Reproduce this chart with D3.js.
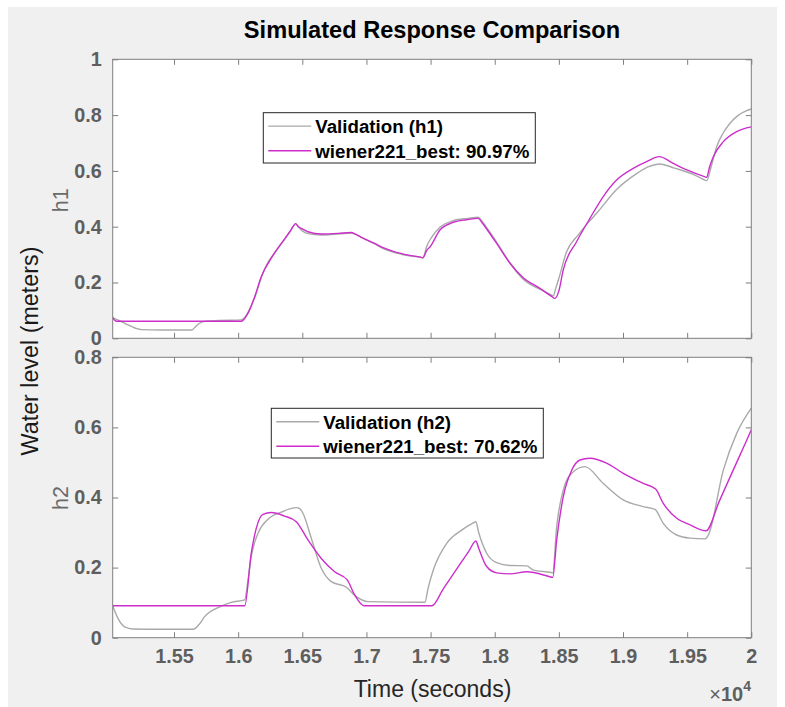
<!DOCTYPE html>
<html>
<head>
<meta charset="utf-8">
<script src="https://cdn.jsdelivr.net/npm/d3@7"></script>
<style>
  html, body { margin: 0; padding: 0; background: #ffffff; }
  svg { display: block; }
  text { font-family: "Liberation Sans", Arial, Helvetica, sans-serif; }
</style>
</head>
<body>
<svg id="chart" width="785" height="707"></svg>
<script>
// ---------------- DATA ----------------
const chartTitle = "Simulated Response Comparison";
const xTicks = [15500, 16000, 16500, 17000, 17500, 18000, 18500, 19000, 19500, 20000];
const xTickLabels = ["1.55", "1.6", "1.65", "1.7", "1.75", "1.8", "1.85", "1.9", "1.95", "2"];
const yTicksH1 = [0, 0.2, 0.4, 0.6, 0.8, 1];
const yTickLabelsH1 = ["0", "0.2", "0.4", "0.6", "0.8", "1"];
const yTicksH2 = [0, 0.2, 0.4, 0.6, 0.8];
const yTickLabelsH2 = ["0", "0.2", "0.4", "0.6", "0.8"];
const seriesNames = ["Validation", "wiener221_best"];
const fitH1 = "90.97%";
const fitH2 = "70.62%";

// h1 validation: [time (s), level (m)]
const h1Validation = [
  [15022,0.074],[15080,0.062],[15141,0.048],[15200,0.036],[15245,0.031],[15400,0.030],[15640,0.030],
  [15660,0.038],[15700,0.054],[15740,0.061],[15850,0.064],[16024,0.066],[16060,0.080],[16100,0.115],
  [16140,0.160],[16180,0.218],[16220,0.262],[16258,0.290],[16300,0.318],[16336,0.338],[16402,0.380],
  [16448,0.410],[16465,0.402],[16500,0.385],[16544,0.375],[16648,0.370],[16760,0.373],[16882,0.377],[16960,0.362],
  [17064,0.338],[17140,0.320],[17220,0.307],[17330,0.296],[17420,0.2905],[17440,0.288],[17470,0.330],[17505,0.360],
  [17573,0.398],[17677,0.422],[17790,0.430],[17872,0.434],[17900,0.421],[17940,0.395],[18015,0.345],[18119,0.270],
  [18222,0.212],[18352,0.176],[18420,0.161],[18456,0.152],[18475,0.178],[18500,0.215],[18560,0.310],[18650,0.370],[18720,0.410],
  [18794,0.448],[18950,0.533],[19106,0.590],[19200,0.615],[19288,0.625],[19400,0.610],[19560,0.585],
  [19620,0.571],[19652,0.565],[19690,0.620],[19730,0.687],[19780,0.735],[19834,0.771],[19900,0.800],[19960,0.815],
  [20000,0.822]
];
// h1 model
const h1Model = [
  [15022,0.074],[15050,0.061],[16024,0.061],[16077,0.090],[16129,0.149],[16180,0.221],[16258,0.287],
  [16336,0.340],[16402,0.382],[16430,0.402],[16448,0.411],[16470,0.400],[16500,0.392],[16544,0.382],[16648,0.374],[16780,0.376],
  [16882,0.379],[16910,0.374],[16960,0.362],[17064,0.340],[17140,0.323],[17220,0.310],[17330,0.298],[17420,0.291],[17440,0.289],
  [17470,0.315],[17496,0.328],[17573,0.388],[17677,0.416],[17780,0.425],[17872,0.430],[17900,0.415],[17940,0.390],
  [18015,0.340],[18119,0.269],[18222,0.217],[18352,0.179],[18440,0.151],[18469,0.143],[18500,0.170],[18534,0.245],
  [18638,0.346],[18742,0.430],[18846,0.508],[18950,0.567],[19080,0.609],[19184,0.633],[19283,0.651],
  [19380,0.630],[19470,0.609],[19560,0.592],[19625,0.581],[19652,0.577],[19675,0.615],[19704,0.651],[19782,0.705],[19886,0.741],
  [20000,0.758]
];
// h2 validation
const h2Validation = [
  [15022,0.091],[15063,0.055],[15115,0.031],[15180,0.025],[15400,0.024],[15648,0.024],[15700,0.040],
  [15739,0.060],[15843,0.086],[15946,0.101],[16051,0.108],[16075,0.160],[16102,0.231],[16155,0.298],
  [16233,0.338],[16336,0.358],[16453,0.371],[16480,0.368],[16505,0.355],[16570,0.284],[16648,0.198],
  [16726,0.160],[16843,0.144],[16921,0.117],[17012,0.103],[17456,0.101],[17480,0.140],[17521,0.193],
  [17625,0.269],[17742,0.307],[17830,0.327],[17853,0.331],[17875,0.300],[17937,0.241],[18015,0.214],[18119,0.206],[18249,0.205],
  [18301,0.193],[18440,0.186],[18452,0.185],[18483,0.317],[18534,0.421],[18600,0.469],[18703,0.488],[18846,0.440],
  [19002,0.393],[19158,0.374],[19249,0.366],[19314,0.326],[19418,0.293],[19522,0.284],[19639,0.282],
  [19665,0.293],[19782,0.478],[19886,0.583],[20000,0.655]
];
// h2 model
const h2Model = [
  [15022,0.091],[16051,0.091],[16102,0.241],[16141,0.312],[16193,0.352],[16258,0.357],[16362,0.347],
  [16453,0.331],[16544,0.279],[16648,0.226],[16752,0.188],[16850,0.165],[16908,0.122],[16981,0.091],
  [17509,0.091],[17600,0.140],[17700,0.194],[17800,0.248],[17853,0.276],[17875,0.255],[17937,0.203],[18015,0.185],
  [18119,0.182],[18249,0.188],[18430,0.174],[18452,0.172],
  [18483,0.279],[18534,0.402],[18600,0.478],[18665,0.507],[18742,0.512],[18872,0.498],[19002,0.469],
  [19158,0.440],[19254,0.424],[19314,0.383],[19418,0.341],[19522,0.322],[19647,0.305],
  [19750,0.389],[19850,0.471],[19950,0.552],[20000,0.593]
];

// ---------------- LAYOUT ----------------
const svg = d3.select("#chart");
const FONT = '"Liberation Sans", Arial, Helvetica, sans-serif';
const valColor = "#a9a9a9";
const modColor = "#cc2ecc";
const frameColor = "#7f7f7f";
const tickTextColor = "#5e5e5e";

svg.append("rect").attr("x", 8).attr("y", 7).attr("width", 769).attr("height", 700).attr("fill", "#f0f0f0");

const axL = 112.7, axR = 751.3;
const panels = [
  { top: 59.3, bottom: 338.3, yMax: 1, ticks: yTicksH1, labels: yTickLabelsH1, val: h1Validation, mod: h1Model,
    ylab: "h1", legend: { x: 263.3, y: 112.7, w: 272, h: 50.3, t1: "Validation (h1)", t2: seriesNames[1] + ": " + fitH1 }, showX: false },
  { top: 357.3, bottom: 637.7, yMax: 0.8, ticks: yTicksH2, labels: yTickLabelsH2, val: h2Validation, mod: h2Model,
    ylab: "h2", legend: { x: 271.3, y: 408.3, w: 272, h: 49.7, t1: "Validation (h2)", t2: seriesNames[1] + ": " + fitH2 }, showX: true }
];

const x = d3.scaleLinear().domain([15022, 20000]).range([axL, axR]);

panels.forEach((p, i) => {
  const y = d3.scaleLinear().domain([0, p.yMax]).range([p.bottom, p.top]);
  const g = svg.append("g");
  g.append("rect").attr("x", axL).attr("y", p.top).attr("width", axR - axL).attr("height", p.bottom - p.top)
    .attr("fill", "#ffffff");

  const clipId = "clip" + i;
  svg.append("defs").append("clipPath").attr("id", clipId)
    .append("rect").attr("x", axL).attr("y", p.top).attr("width", axR - axL).attr("height", p.bottom - p.top);

  const line = d3.line().curve(d3.curveMonotoneX).x(d => x(d[0])).y(d => y(d[1]));
  g.append("path").datum(p.val).attr("d", line).attr("fill", "none").attr("stroke", valColor)
    .attr("stroke-width", 1.4).attr("clip-path", `url(#${clipId})`);
  g.append("path").datum(p.mod).attr("d", line).attr("fill", "none").attr("stroke", modColor)
    .attr("stroke-width", 1.4).attr("clip-path", `url(#${clipId})`);

  // axes via d3 axis generators (ticks inward, mirrored)
  const tl = 5.5;
  const bottomAxis = d3.axisBottom(x).tickValues(xTicks).tickSize(-tl).tickPadding(18)
    .tickFormat((d, k) => p.showX ? xTickLabels[k] : "");
  const topAxis = d3.axisTop(x).tickValues(xTicks).tickSize(-tl).tickFormat("");
  const leftAxis = d3.axisLeft(y).tickValues(p.ticks).tickSize(-tl).tickPadding(11)
    .tickFormat((d, k) => p.labels[k]);
  const rightAxis = d3.axisRight(y).tickValues(p.ticks).tickSize(-tl).tickFormat("");

  const styleAxis = sel => {
    sel.selectAll("path.domain").attr("stroke", frameColor).attr("stroke-width", 1);
    sel.selectAll(".tick line").attr("stroke", frameColor).attr("stroke-width", 1);
    sel.selectAll(".tick text").attr("fill", tickTextColor).style("font-family", FONT)
      .style("font-size", "19.8px").style("font-weight", "bold");
  };
  g.append("g").attr("transform", `translate(0,${p.bottom})`).call(bottomAxis).call(styleAxis)
    .selectAll(".tick text").attr("dy", "0.35em");
  g.append("g").attr("transform", `translate(0,${p.top})`).call(topAxis).call(styleAxis);
  g.append("g").attr("transform", `translate(${axL},0)`).call(leftAxis).call(styleAxis);
  g.append("g").attr("transform", `translate(${axR},0)`).call(rightAxis).call(styleAxis);
  g.selectAll("path.domain").attr("d", null);
  g.append("rect").attr("x", axL).attr("y", p.top).attr("width", axR - axL).attr("height", p.bottom - p.top)
    .attr("fill", "none").attr("stroke", frameColor).attr("stroke-width", 1);

  // subplot y label
  g.append("text").attr("transform", `translate(67.5,${(p.top + p.bottom) / 2 + (i === 0 ? 1.5 : 0.5)}) rotate(-90)`)
    .attr("text-anchor", "middle").attr("fill", "#6a6a6a")
    .style("font-family", FONT).style("font-size", "21.5px").text(p.ylab);

  // legend
  const L = p.legend;
  const lg = g.append("g");
  lg.append("rect").attr("x", L.x).attr("y", L.y).attr("width", L.w).attr("height", L.h)
    .attr("fill", "#ffffff").attr("stroke", "#262626").attr("stroke-width", 1);
  const rows = [{ c: valColor, t: L.t1, dy: 13.4 }, { c: modColor, t: L.t2, dy: 38 }];
  rows.forEach(r => {
    lg.append("line").attr("x1", L.x + 5).attr("x2", L.x + 48).attr("y1", L.y + r.dy).attr("y2", L.y + r.dy)
      .attr("stroke", r.c).attr("stroke-width", 1.4);
    lg.append("text").attr("x", L.x + 52).attr("y", L.y + r.dy + 7).attr("fill", "#000")
      .style("font-family", FONT).style("font-size", "18.7px").style("font-weight", "bold").text(r.t);
  });
});

// title
svg.append("text").attr("x", 432).attr("y", 37.7).attr("text-anchor", "middle").attr("fill", "#000")
  .style("font-family", FONT).style("font-size", "23.6px").style("font-weight", "bold").text(chartTitle);

// x label
svg.append("text").attr("x", 432.5).attr("y", 697).attr("text-anchor", "middle").attr("fill", "#262626")
  .style("font-family", FONT).style("font-size", "23px").text("Time (seconds)");

// x exponent
const ex = svg.append("text").attr("x", 751).attr("y", 701).attr("text-anchor", "end").attr("fill", tickTextColor)
  .style("font-family", FONT).style("font-size", "20px").style("font-weight", "bold");
ex.append("tspan").style("font-weight", "normal").text("\u00d7");
ex.append("tspan").text("10");
ex.append("tspan").attr("dy", -10).style("font-size", "14px").text("4");

// shared y label
svg.append("text").attr("transform", "translate(37.5,351) rotate(-90)").attr("text-anchor", "middle")
  .attr("fill", "#1a1a1a").style("font-family", FONT).style("font-size", "23.3px").text("Water level (meters)");
</script>
</body>
</html>
